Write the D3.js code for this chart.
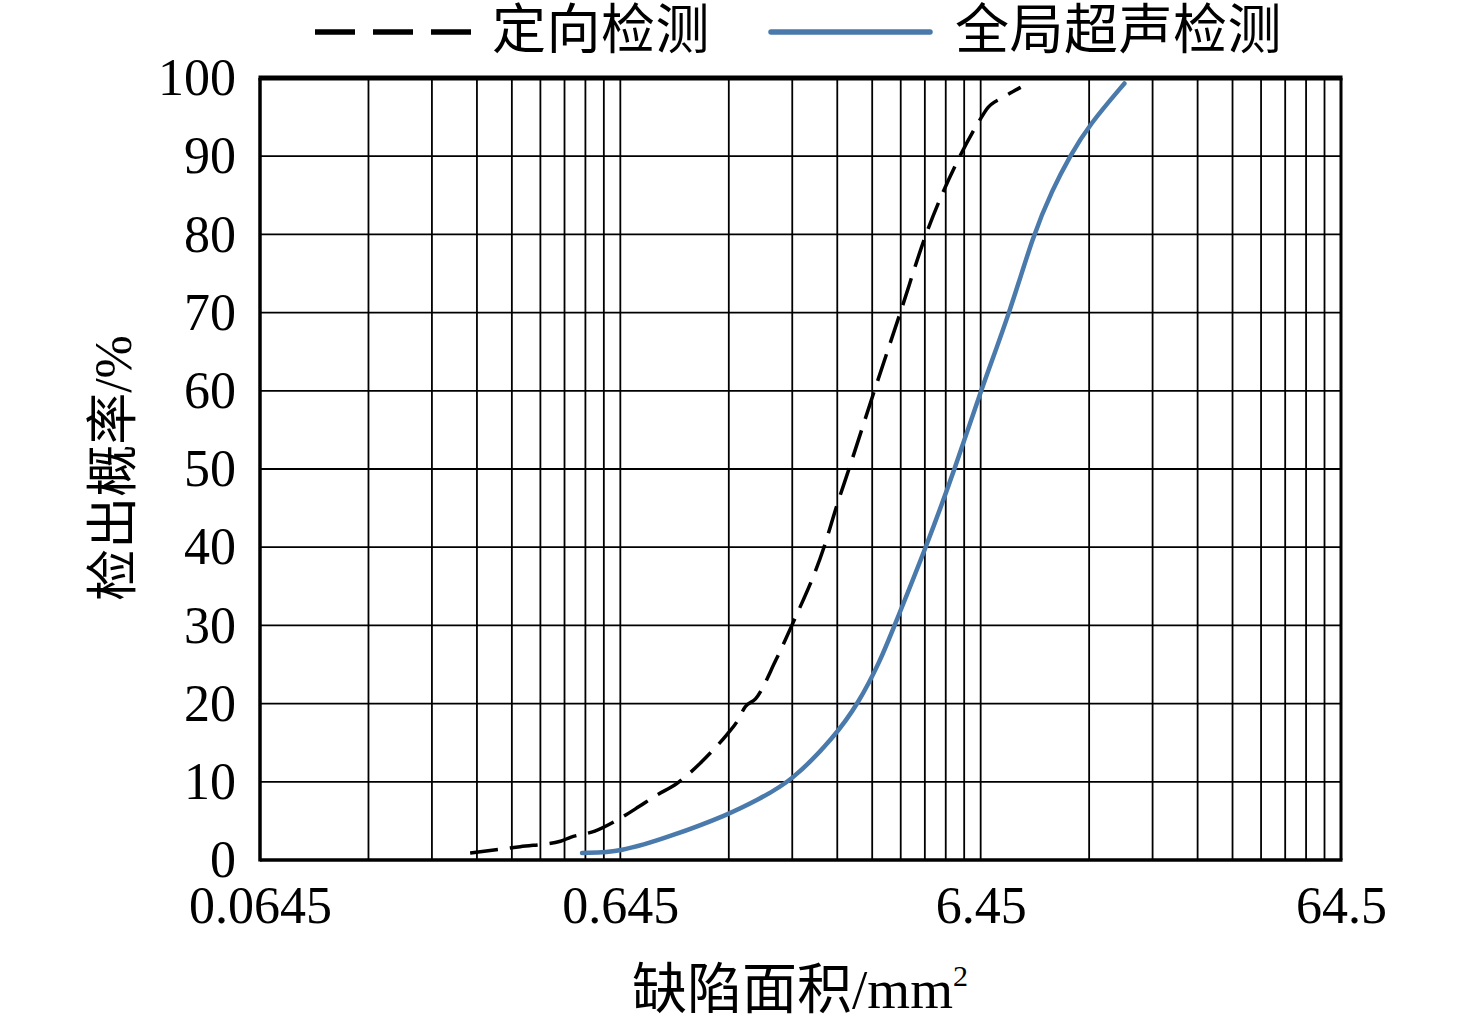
<!DOCTYPE html>
<html>
<head>
<meta charset="utf-8">
<script src="https://cdn.jsdelivr.net/npm/d3@7/dist/d3.min.js"></script>
<style>
  html, body { margin: 0; padding: 0; background: #fff; }
  svg { display: block; }
  text { font-family: "Liberation Serif", "Noto Sans CJK SC", serif; fill: #000; }
</style>
</head>
<body>
<svg id="chart" width="1476" height="1027"></svg>
<script>
// ---- data ----
const seriesNames = ["定向检测", "全局超声检测"];
// 定向检测 (dashed): defect area mm² / detection probability %
const directionalArea = [0.247, 0.340, 0.440, 0.469, 0.548, 0.637, 0.725, 0.807, 0.927, 1.076, 1.169, 1.278, 1.36, 1.433, 1.53, 1.74, 1.93, 2.37, 2.58, 2.78, 3.27, 3.86, 4.55, 5.65, 6.45, 6.70, 7.50, 8.33];
const directionalProb = [0.9, 1.7, 2.4, 2.9, 3.7, 5.2, 6.8, 8.2, 9.8, 12.4, 14.1, 16.1, 17.7, 19.6, 20.6, 25.5, 30.0, 40.0, 45.5, 50.0, 60.0, 70.0, 80.0, 90.0, 94.8, 96.0, 97.6, 98.8];
// 全局超声检测 (solid blue)
const globalArea = [0.505, 0.645, 0.888, 1.287, 1.55, 1.92, 2.53, 2.95, 3.40, 3.72, 4.55, 5.47, 6.45, 7.77, 9.03, 10.2, 11.4, 12.9, 16.16];
const globalProb = [0.9, 1.0, 3.0, 5.8, 7.7, 10.0, 15.7, 20.0, 25.5, 30.0, 40.0, 50.0, 60.0, 70.0, 80.0, 85.7, 90.0, 94.0, 99.3];
// axis ticks
const xTickLabels = ["0.0645", "0.645", "6.45", "64.5"];
const xTickValues = [0.0645, 0.645, 6.45, 64.5];
const yTickValues = [0, 10, 20, 30, 40, 50, 60, 70, 80, 90, 100];
const xAxisTitle = "缺陷面积/mm";
const yAxisTitle = "检出概率/%";

// ---- layout ----
const svg = d3.select("#chart");
const pL = 260, pR = 1341, pT = 78, pB = 860;
const x = d3.scaleLog().domain([0.0645, 64.5]).range([pL, pR]);
const y = d3.scaleLinear().domain([0, 100]).range([pB, pT]);

// minor gridline values: k * decade base
const gridX = [];
xTickValues.slice(0, -1).forEach(b => { for (let k = 1; k <= 9; k++) gridX.push(b * k); });

const grid = svg.append("g");
grid.selectAll("line.vx").data(gridX.slice(1)).join("line")
  .attr("x1", d => x(d)).attr("x2", d => x(d))
  .attr("y1", pT).attr("y2", pB)
  .attr("stroke", "#000").attr("stroke-width", 1.8);
grid.selectAll("line.hy").data(yTickValues.slice(1, -1)).join("line")
  .attr("x1", pL).attr("x2", pR)
  .attr("y1", d => y(d)).attr("y2", d => y(d))
  .attr("stroke", "#000").attr("stroke-width", 1.8);

// frame
svg.append("line").attr("x1", pL - 1.5).attr("x2", pR + 1.5).attr("y1", pT).attr("y2", pT)
  .attr("stroke", "#000").attr("stroke-width", 5);
svg.append("line").attr("x1", pL).attr("x2", pL).attr("y1", pT).attr("y2", pB + 1.5)
  .attr("stroke", "#000").attr("stroke-width", 3.5);
svg.append("line").attr("x1", pL).attr("x2", pR + 1.5).attr("y1", pB).attr("y2", pB)
  .attr("stroke", "#000").attr("stroke-width", 3.5);
svg.append("line").attr("x1", pR).attr("x2", pR).attr("y1", pT).attr("y2", pB)
  .attr("stroke", "#000").attr("stroke-width", 3);

// axes via d3 (labels only, lines hidden)
const yAxis = d3.axisLeft(y).tickValues(yTickValues).tickSize(0).tickPadding(24);
const gy = svg.append("g").attr("transform", `translate(${pL},0)`).call(yAxis);
gy.select(".domain").remove();
gy.selectAll("text").style("font-family", "Liberation Serif, serif").style("font-size", "52px").attr("fill", "#000");

const xAxis = d3.axisBottom(x).tickValues(xTickValues).tickFormat((d, i) => xTickLabels[i]).tickSize(0).tickPadding(26);
const gx = svg.append("g").attr("transform", `translate(0,${pB})`).call(xAxis);
gx.select(".domain").remove();
gx.selectAll("text").style("font-family", "Liberation Serif, serif").style("font-size", "52px").attr("fill", "#000");

// series
const blue = "#4a7aab";
const dirData = directionalArea.map((a, i) => [a, directionalProb[i]]);
const gloData = globalArea.map((a, i) => [a, globalProb[i]]);
const dirLine = d3.line().x(d => x(d[0])).y(d => y(d[1])).curve(d3.curveMonotoneX);
const gloLine = d3.line().x(d => x(d[0])).y(d => y(d[1])).curve(d3.curveBasis);

svg.append("path").datum(gloData).attr("d", gloLine)
  .attr("fill", "none").attr("stroke", blue).attr("stroke-width", 4.5).attr("stroke-linecap", "round");
svg.append("path").datum(dirData).attr("d", dirLine)
  .attr("fill", "none").attr("stroke", "#000").attr("stroke-width", 3.5).attr("stroke-dasharray", "28,12");

// axis titles
svg.append("text").attr("x", 800).attr("y", 1008).attr("text-anchor", "middle")
  .style("font-size", "55px")
  .text(xAxisTitle)
  .append("tspan").attr("dy", -22).style("font-size", "30px").text("2");

svg.append("text").attr("transform", "translate(113,468) rotate(-90)")
  .attr("text-anchor", "middle").attr("dominant-baseline", "central")
  .style("font-size", "52px").text(yAxisTitle);

// legend
const lg = svg.append("g");
lg.append("line").attr("x1", 315).attr("x2", 473).attr("y1", 32).attr("y2", 32)
  .attr("stroke", "#000").attr("stroke-width", 5.5).attr("stroke-dasharray", "40,18");
lg.append("text").attr("x", 492).attr("y", 49).style("font-size", "54px").attr("letter-spacing", "0.5px").text(seriesNames[0]);
lg.append("line").attr("x1", 771).attr("x2", 930).attr("y1", 32).attr("y2", 32)
  .attr("stroke", blue).attr("stroke-width", 5.5).attr("stroke-linecap", "round");
lg.append("text").attr("x", 955).attr("y", 49).style("font-size", "54px").attr("letter-spacing", "0.5px").text(seriesNames[1]);
</script>
</body>
</html>
